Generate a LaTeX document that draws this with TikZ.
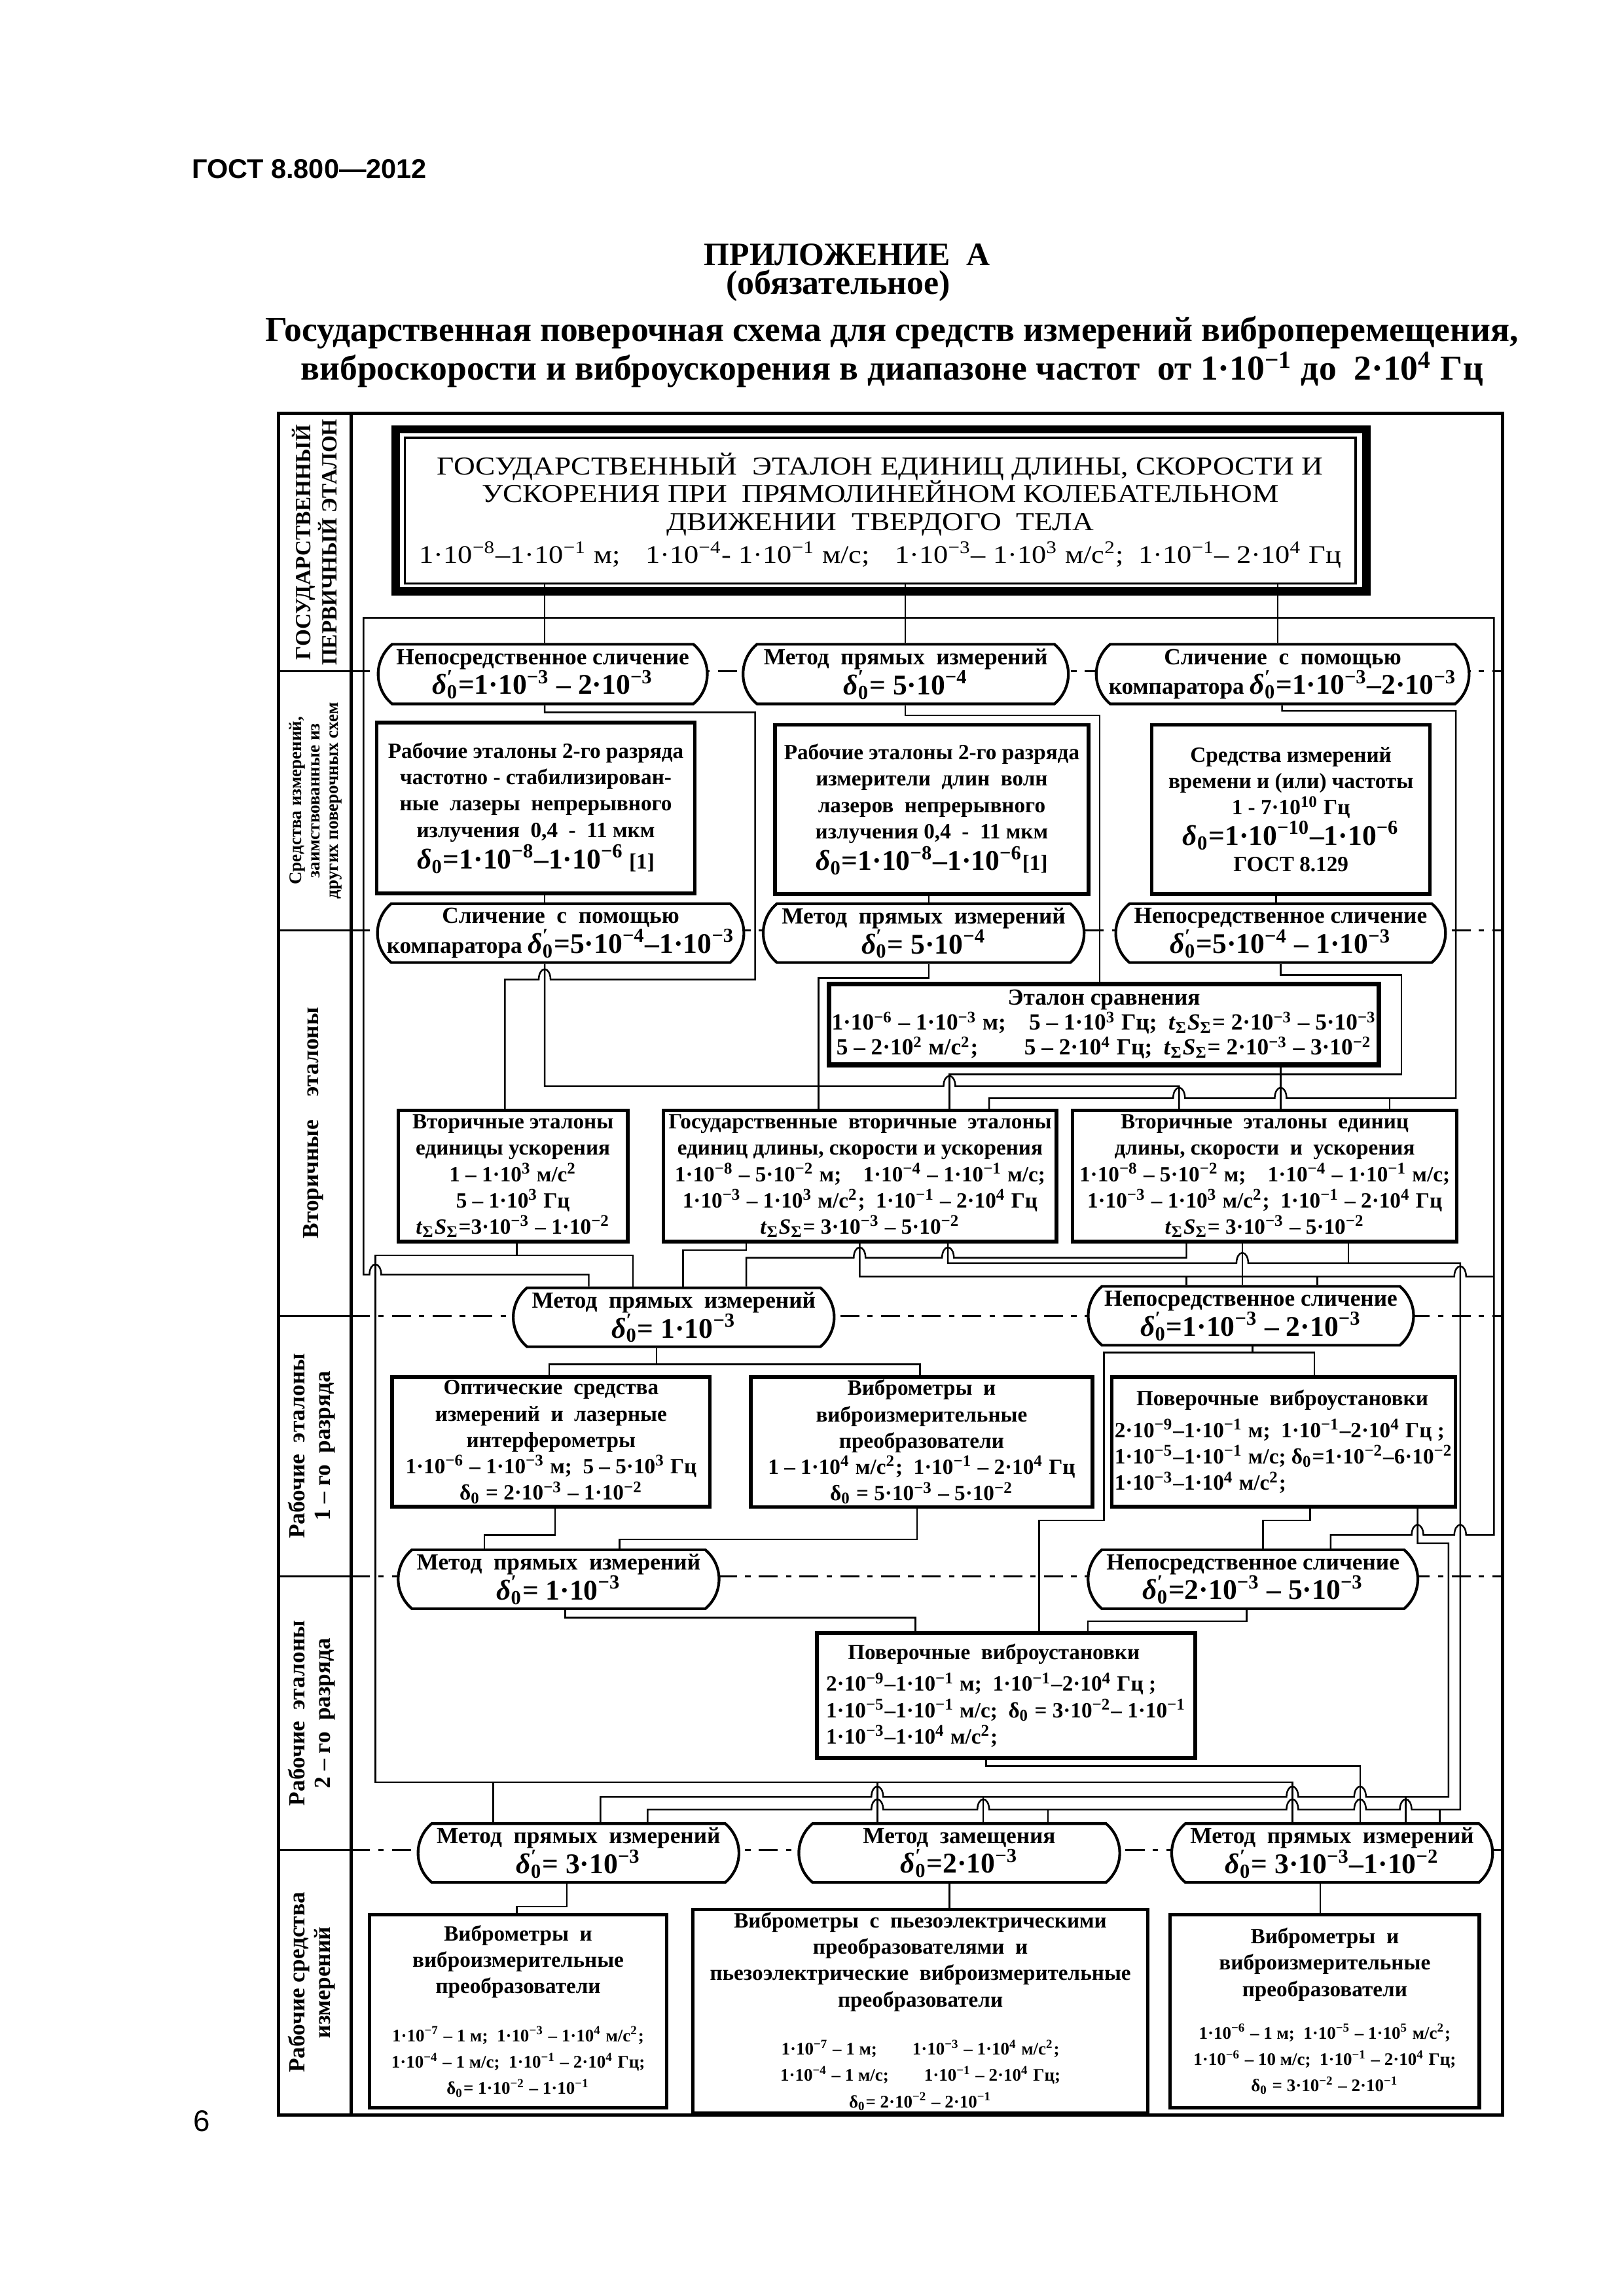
\documentclass[tikz,border=0pt]{standalone}
\usepackage{fontspec}
\setmainfont{Liberation Serif}
\newfontfamily\hdrfont{Liberation Sans}
\newfontfamily\widefont[FakeStretch=1.15]{Liberation Serif}
\usetikzlibrary{shapes.misc}

\newcommand\dlp{\textit{δ}\rlap{\textsuperscript{′}}\textsubscript{0}}
\newcommand\dlz{\textit{δ}\textsubscript{0}}
\newcommand\tsS{\textit{t}\textsubscript{Σ}\textit{S}\textsubscript{Σ}}
\newcommand\tpow[1]{10\textsuperscript{#1}}
\newcommand\bgl{\fontsize{10.5}{12}\selectfont}
\newcommand\smf{\fontsize{6.5}{8}\selectfont}
\newcommand\hopr[2]{-- ({#1-4},#2) arc[start angle=180,end angle=360,x radius=4,y radius=7]}
\newcommand\hopl[2]{-- ({#1+4},#2) arc[start angle=0,end angle=-180,x radius=4,y radius=7]}

\tikzset{
   box/.style={draw, line width=1.3pt, fill=white, align=center, inner sep=1pt,
      font=\bfseries\fontsize{8}{9.7}\selectfont},
   ovl/.style={draw, line width=1pt, fill=white, rounded rectangle,
      rounded rectangle arc length=100, align=center, inner sep=0pt,
      font=\bfseries\fontsize{8.5}{11}\selectfont},
   sz/.style 2 args={minimum width=#1*0.19039mm, minimum height=#2*0.19039mm},
   wire/.style={line width=0.6pt},
   dashline/.style={line width=0.8pt, dash pattern=on 7pt off 3pt on 2pt off 3pt},
   lbl/.style={rotate=90, align=center, font=\bfseries\fontsize{8.5}{9.6}\selectfont},
}

\begin{document}
\begin{tikzpicture}[x=0.19039mm, y=-0.19039mm]
   \fill[white] (0,0) rectangle (1103,1560);

   % header and title
   \node[anchor=west, inner sep=0pt, font=\hdrfont\bfseries\fontsize{10}{12}\selectfont] (gost) at (130,115) {ГОСТ 8.800—2012};
   \node[font=\bfseries\fontsize{12}{14}\selectfont] (app) at (575.5,173) {ПРИЛОЖЕНИЕ~ А};
   \node[font=\bfseries\fontsize{12.5}{14}\selectfont] (obl) at (569.4,194) {(обязательное)};
   \node[align=center, font=\bfseries\fontsize{12.9}{12.6}\selectfont] (ttl) at (606,239) {Государственная поверочная схема для средств измерений виброперемещения,\\виброскорости и виброускорения в диапазоне частот~ от 1·\tpow{−1} до~ 2·\tpow{4} Гц};
   \node[font=\hdrfont\fontsize{11}{12}\selectfont] (pg) at (137,1441) {6};

   % frame, label column, level lines
   \draw[line width=1.2pt] (189,281) rectangle (1021,1437);
   \draw[line width=1.2pt] (238.5,281) -- (238.5,1437);
   \foreach \yy in {456,632,894,1071,1257} {
      \draw[line width=0.8pt] (189,\yy) -- (238.5,\yy);
      \draw[dashline] (238.5,\yy) -- (1021,\yy);
   }
   \node[lbl, font=\bfseries\fontsize{8}{9.6}\selectfont] (lab1) at (213.5,368.5) {ГОСУДАРСТВЕННЫЙ\\ПЕРВИЧНЫЙ ЭТАЛОН};
   \node[lbl, font=\bfseries\fontsize{6.5}{6.8}\selectfont] (lab2) at (214.3,544) {Средства измерений,\\заимствованные из\\других поверочных схем};
   \node[lbl] (lab3) at (213,763) {Вторичные\quad эталоны};
   \node[lbl] (lab4) at (211.7,982.5) {Рабочие~ эталоны\\1 – го~ разряда};
   \node[lbl] (lab5) at (211.7,1164) {Рабочие~ эталоны\\2 – го~ разряда};
   \node[lbl] (lab6) at (211.7,1347) {Рабочие средства\\измерений};

   % state primary standard
   \node[draw, line width=0.8pt, fill=white, sz={646}{99}, align=center,
      font=\widefont\fontsize{9.5}{10.2}\selectfont] (gse) at (598,347)
      {ГОСУДАРСТВЕННЫЙ~ ЭТАЛОН ЕДИНИЦ ДЛИНЫ, СКОРОСТИ И\\УСКОРЕНИЯ ПРИ~ ПРЯМОЛИНЕЙНОМ КОЛЕБАТЕЛЬНОМ\\ДВИЖЕНИИ~ ТВЕРДОГО~ ТЕЛА\\[2pt]\fontsize{9.3}{11}\selectfont 1·\tpow{−8}–1·\tpow{−1} м;\quad 1·\tpow{−4}- 1·\tpow{−1} м/с;\quad 1·\tpow{−3}– 1·\tpow{3} м/с\textsuperscript{2};\ \ 1·\tpow{−1}– 2·\tpow{4} Гц};
   \draw[line width=3pt] ([shift={(-5.5,-5)}]gse.north west) rectangle ([shift={(6.5,4.5)}]gse.south east);

   % borrowed means
   \node[ovl, sz={223.6}{40.5}] (o2a) at (368.7,458) {Непосредственное сличение\\{\bgl\dlp =1·\tpow{−3} – 2·\tpow{−3}}};
   \node[ovl, sz={221}{40.5}] (o2b) at (615.3,458) {Метод~ прямых~ измерений\\{\bgl\dlp = 5·\tpow{−4}}};
   \node[ovl, sz={253.3}{40.5}] (o2c) at (871.4,458) {Сличение~ с~ помощью\\компаратора {\bgl\dlp=1·\tpow{−3}–2·\tpow{−3}}};

   \node[box, sz={216}{116}] (b3a) at (364,549) {Рабочие эталоны 2-го разряда\\частотно - стабилизирован-\\ные~ лазеры~ непрерывного\\излучения~ 0,4~ -~ 11 мкм\\{\bgl\dlz =1·\tpow{−8}–1·\tpow{−6}} [1]};
   \node[box, sz={213}{115}] (b3b) at (633,550) {Рабочие эталоны 2-го разряда\\измерители~ длин~ волн\\лазеров~ непрерывного\\излучения 0,4~ -~ 11 мкм\\{\bgl\dlz =1·\tpow{−8}–1·\tpow{−6}}[1]};
   \node[box, sz={189}{115}] (b3c) at (877,550) {Средства измерений\\времени и (или) частоты\\1 - 7·\tpow{10} Гц\\{\bgl\dlz =1·\tpow{−10}–1·\tpow{−6}}\\ГОСТ 8.129};

   \node[ovl, sz={248}{40}] (o4a) at (380.9,634) {Сличение~ с~ помощью\\компаратора {\bgl\dlp=5·\tpow{−4}–1·\tpow{−3}}};
   \node[ovl, sz={218}{40}] (o4b) at (627.5,634) {Метод~ прямых~ измерений\\{\bgl\dlp = 5·\tpow{−4}}};
   \node[ovl, sz={224}{40}] (o4c) at (870,634) {Непосредственное сличение\\{\bgl\dlp =5·\tpow{−4} – 1·\tpow{−3}}};

   % secondary standards
   \node[box, line width=1.8pt, sz={366}{55}, font=\bfseries\fontsize{8.5}{9.2}\selectfont] (et) at (750,696) {Эталон сравнения\\1·\tpow{−6} – 1·\tpow{−3} м;\quad 5 – 1·\tpow{3} Гц;\ \ \tsS = 2·\tpow{−3} – 5·\tpow{−3}\\5 – 2·\tpow{2} м/с\textsuperscript{2};\qquad 5 – 2·\tpow{4} Гц;\ \ \tsS = 2·\tpow{−3} – 3·\tpow{−2}};

   \node[box, sz={156}{89}] (v1) at (348.5,799) {Вторичные эталоны\\единицы ускорения\\1 – 1·\tpow{3} м/с\textsuperscript{2}\\5 – 1·\tpow{3} Гц\\\tsS=3·\tpow{−3} – 1·\tpow{−2}};
   \node[box, sz={267}{89}] (v2) at (584.3,799) {Государственные~ вторичные~ эталоны\\единиц длины, скорости и ускорения\\1·\tpow{−8} – 5·\tpow{−2} м;\quad 1·\tpow{−4} – 1·\tpow{−1} м/с;\\1·\tpow{−3} – 1·\tpow{3} м/с\textsuperscript{2};\ \ 1·\tpow{−1} – 2·\tpow{4} Гц\\\tsS = 3·\tpow{−3} – 5·\tpow{−2}};
   \node[box, sz={261}{89}] (v3) at (859.2,799) {Вторичные~ эталоны~ единиц\\длины, скорости~ и~ ускорения\\1·\tpow{−8} – 5·\tpow{−2} м;\quad 1·\tpow{−4} – 1·\tpow{−1} м/с;\\1·\tpow{−3} – 1·\tpow{3} м/с\textsuperscript{2};\ \ 1·\tpow{−1} – 2·\tpow{4} Гц\\\tsS = 3·\tpow{−3} – 5·\tpow{−2}};

   % working standards, 1st grade
   \node[ovl, sz={218}{40}] (o5a) at (457.7,895) {Метод~ прямых~ измерений\\{\bgl\dlp = 1·\tpow{−3}}};
   \node[ovl, sz={221}{40}] (o5b) at (849.8,894) {Непосредственное сличение\\{\bgl\dlp =1·\tpow{−3} – 2·\tpow{−3}}};

   \node[box, sz={216}{88}] (w1) at (374.4,979.7) {Оптические~ средства\\измерений~ и~ лазерные\\интерферометры\\1·\tpow{−6} – 1·\tpow{−3} м;~ 5 – 5·\tpow{3} Гц\\δ\textsubscript{0} = 2·\tpow{−3} – 1·\tpow{−2}};
   \node[box, sz={232}{88}] (w2) at (626.1,979.7) {Виброметры~ и\\виброизмерительные\\преобразователи\\1 – 1·\tpow{4} м/с\textsuperscript{2};\ \ 1·\tpow{−1} – 2·\tpow{4} Гц\\δ\textsubscript{0} = 5·\tpow{−3} – 5·\tpow{−2}};
   \node[box, sz={233}{88}, align=left] (w3) at (872.1,979.7) {\hspace*{1em}Поверочные~ виброустановки\\[2pt]2·\tpow{−9}–1·\tpow{−1} м;~ 1·\tpow{−1}–2·\tpow{4} Гц ;\\1·\tpow{−5}–1·\tpow{−1} м/с; δ\textsubscript{0}=1·\tpow{−2}–6·\tpow{−2}\\1·\tpow{−3}–1·\tpow{4} м/с\textsuperscript{2};};

   % working standards, 2nd grade
   \node[ovl, sz={218}{40}] (o6a) at (379.5,1073) {Метод~ прямых~ измерений\\{\bgl\dlp = 1·\tpow{−3}}};
   \node[ovl, sz={224}{40}] (o6b) at (851.2,1073) {Непосредственное сличение\\{\bgl\dlp =2·\tpow{−3} – 5·\tpow{−3}}};

   \node[box, sz={257}{85}, align=left] (p2) at (683.5,1152) {\hspace*{1em}Поверочные~ виброустановки\\[2pt]2·\tpow{−9}–1·\tpow{−1} м;\ \ 1·\tpow{−1}–2·\tpow{4} Гц ;\\1·\tpow{−5}–1·\tpow{−1} м/с;\ \ δ\textsubscript{0} = 3·\tpow{−2}– 1·\tpow{−1}\\1·\tpow{−3}–1·\tpow{4} м/с\textsuperscript{2};};

   % working means
   \node[ovl, sz={218}{40}] (o7a) at (393,1259) {Метод~ прямых~ измерений\\{\bgl\dlp = 3·\tpow{−3}}};
   \node[ovl, sz={218}{40}] (o7b) at (651.7,1259) {Метод~ замещения\\{\bgl\dlp =2·\tpow{−3}}};
   \node[ovl, sz={218}{40}] (o7c) at (905,1259) {Метод~ прямых~ измерений\\{\bgl\dlp = 3·\tpow{−3}–1·\tpow{−2}}};

   \node[box, sz={202}{131}] (f1) at (352,1366.5) {Виброметры~ и\\виброизмерительные\\преобразователи\\[8pt]\smf 1·\tpow{−7} – 1 м;~ 1·\tpow{−3} – 1·\tpow{4} м/с\textsuperscript{2};\\\smf 1·\tpow{−4} – 1 м/с;~ 1·\tpow{−1} – 2·\tpow{4} Гц;\\\smf δ\textsubscript{0}= 1·\tpow{−2} – 1·\tpow{−1}};
   \node[box, sz={309}{131}] (f2) at (625.3,1366.5) {Виброметры~ с~ пьезоэлектрическими\\преобразователями~ и\\пьезоэлектрические~ виброизмерительные\\преобразователи\\[8pt]\smf 1·\tpow{−7} – 1 м;\qquad 1·\tpow{−3} – 1·\tpow{4} м/с\textsuperscript{2};\\\smf 1·\tpow{−4} – 1 м/с;\qquad 1·\tpow{−1} – 2·\tpow{4} Гц;\\\smf δ\textsubscript{0}= 2·\tpow{−2} – 2·\tpow{−1}};
   \node[box, sz={210}{131}] (f3) at (900,1366.5) {Виброметры~ и\\виброизмерительные\\преобразователи\\[6pt]\smf 1·\tpow{−6} – 1 м;~ 1·\tpow{−5} – 1·\tpow{5} м/с\textsuperscript{2};\\\smf 1·\tpow{−6} – 10 м/с;~ 1·\tpow{−1} – 2·\tpow{4} Гц;\\\smf δ\textsubscript{0} = 3·\tpow{−2} – 2·\tpow{−1}};

   % connectors
   \begin{scope}[wire]
   \draw (gse.south -| 370,0) -- (o2a.north -| 370,0);
   \draw (gse.south -| 615,0) -- (o2b.north -| 615,0);
   \draw (gse.south -| 868,0) -- (o2c.north -| 868,0);
   \draw (o5a.north -| 400,0) -- (400,866) \hopl{255}{866} -- (247,866) -- (247,420) -- (1015,420)
      -- (1015,1043) \hopl{992}{1043} \hopl{963}{1043} -- (904,1043) -- (o6b.north -| 904,0);

   \draw (o2a.south -| 370,0) -- (370,484) -- (513,484) -- (513,665.5) \hopl{370}{665.5} -- (343,665.5) -- (v1.north -| 343,0);
   \draw (b3a.south -| 370,0) -- (o4a.north -| 370,0);
   \draw (o2b.south -| 615,0) -- (615,486) -- (747,486) -- (et.north -| 747,0);
   \draw (b3b.south -| 631,0) -- (o4b.north -| 631,0);
   \draw (o2c.south -| 871,0) -- (871,483) -- (989,483) -- (989,746) \hopl{870}{746} \hopl{801}{746} -- (672,746) -- (v2.north -| 672,0);
   \draw (944,746) -- (v3.north -| 944,0);
   \draw (b3c.south -| 867,0) -- (o4c.north -| 867,0);

   \draw (o4a.south -| 370,0) -- (370,738) \hopr{645}{738} -- (801,738) -- (v3.north -| 801,0);
   \draw (o4b.south -| 631,0) -- (631,664.7) -- (556,664.7) -- (v2.north -| 556,0);
   \draw (o4c.south -| 870,0) -- (870,662.4) -- (952,662.4) -- (952,730) -- (645,730) -- (v2.north -| 645,0);
   \draw (et.south -| 870,0) -- (v3.north -| 870,0);

   \draw (v1.south -| 351,0) -- (351,853);
   \draw (o5a.north -| 430,0) -- (430,853) -- (255,853) -- (255,1211) -- (878,1211) -- (o7c.north -| 878,0);
   \draw (335,1211) -- (o7a.north -| 335,0);
   \draw (596,1211) -- (o7b.north -| 596,0);
   \draw (v2.south -| 507,0) -- (507,849.4) -- (464,849.4) -- (o5a.north -| 464,0);
   \draw (v3.south -| 806,0) -- (806,854.5) \hopl{644}{854.5} \hopl{584}{854.5} -- (507,854.5) -- (o5a.north -| 507,0);
   \draw (v2.south -| 584,0) -- (584,867.3) \hopr{992}{867.3} -- (1015,867.3);
   \draw (806,867.3) -- (o5b.north -| 806,0);
   \draw (895,867.3) -- (o5b.north -| 895,0);
   \draw (v2.south -| 644,0) -- (644,858.2) \hopr{844}{858.2} -- (992,858.2) -- (992,1229.5)
      \hopl{955}{1229.5} \hopl{924}{1229.5} \hopl{878}{1229.5} \hopl{668}{1229.5} \hopl{596}{1229.5}
      -- (440,1229.5) -- (o7a.north -| 440,0);
   \draw (978,1229.5) -- (o7c.north -| 978,0);
   \draw (712,1229.5) -- (o7b.north -| 712,0);
   \draw (v3.south -| 916,0) -- (916,858.2);
   \draw (v3.south -| 844,0) -- (o5b.north -| 844,0);

   \draw (o5a.south -| 446,0) -- (446,927);
   \draw (w1.north -| 373,0) -- (373,927) -- (625,927) -- (w2.north -| 625,0);
   \draw (o5b.south -| 851,0) -- (851,919) -- (750,919) -- (750,1033) -- (706,1033) -- (p2.north -| 706,0);
   \draw (851,919) -- (893,919) -- (w3.north -| 893,0);

   \draw (w1.south -| 377,0) -- (377,1043) -- (329,1043) -- (o6a.north -| 329,0);
   \draw (w2.south -| 623,0) -- (623,1046) -- (421,1046) -- (o6a.north -| 421,0);
   \draw (w3.south -| 890,0) -- (890,1033) -- (858,1033) -- (o6b.north -| 858,0);
   \draw (w3.south -| 963,0) -- (963,1048.5) -- (984,1048.5) -- (984,1220.8)
      \hopl{924}{1220.8} \hopl{878}{1220.8} \hopl{596}{1220.8} -- (408,1220.8) -- (o7a.north -| 408,0);
   \draw (955,1220.8) -- (o7c.north -| 955,0);
   \draw (668,1220.8) -- (o7b.north -| 668,0);

   \draw (o6a.south -| 384,0) -- (384,1099) -- (622,1099) -- (p2.north -| 622,0);
   \draw (o6b.south -| 847,0) -- (847,1101.6) -- (739,1101.6) -- (p2.north -| 739,0);
   \draw (p2.south -| 670,0) -- (670,1200) -- (924,1200) -- (o7c.north -| 924,0);

   \draw (o7a.south -| 385,0) -- (385,1295.5) -- (351,1295.5) -- (f1.north -| 351,0);
   \draw (o7b.south -| 645,0) -- (f2.north -| 645,0);
   \draw (o7c.south -| 897,0) -- (f3.north -| 897,0);
   \end{scope}
\end{tikzpicture}
\end{document}
